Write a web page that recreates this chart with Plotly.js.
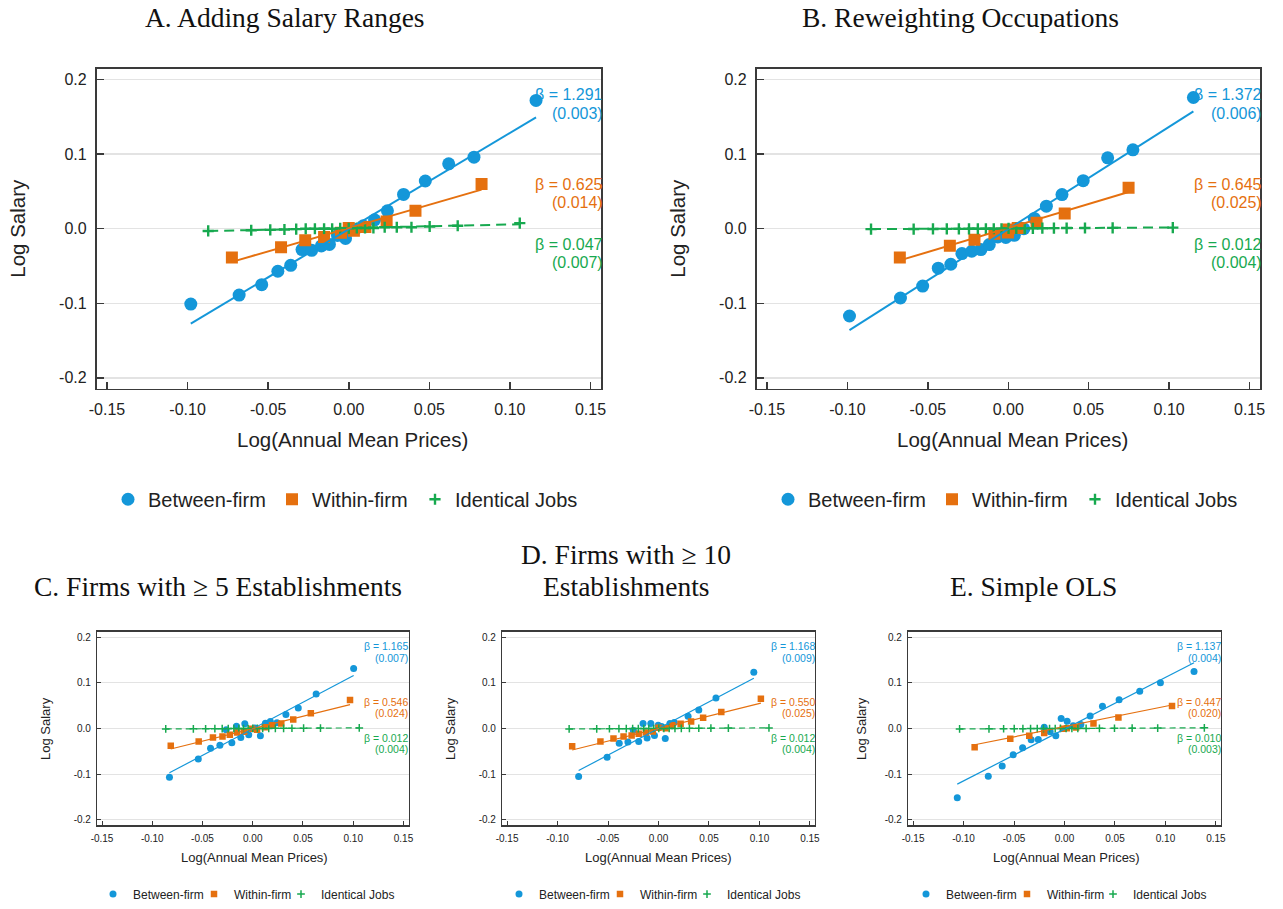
<!DOCTYPE html>
<html><head><meta charset="utf-8">
<script src="https://cdn.plot.ly/plotly-3.0.1.min.js"></script>
<style>html,body{margin:0;padding:0;background:#fff}</style>
</head><body><div id="chart" style="width:1283px;height:909px"></div>
<script>
// ---------------- DATA ----------------
const xTickVals = [-0.15, -0.10, -0.05, 0.00, 0.05, 0.10, 0.15];
const xTickText = ['-0.15', '-0.10', '-0.05', '0.00', '0.05', '0.10', '0.15'];
const yTickVals = [-0.2, -0.1, 0.0, 0.1, 0.2];
const yTickText = ['-0.2', '-0.1', '0.0', '0.1', '0.2'];
const seriesNames = ['Between-firm', 'Within-firm', 'Identical Jobs'];
const panelTitles = ['A. Adding Salary Ranges', 'B. Reweighting Occupations',
  'C. Firms with ≥ 5 Establishments', 'D. Firms with ≥ 10<br>Establishments', 'E. Simple OLS'];
const xTitle = 'Log(Annual Mean Prices)';
const yTitle = 'Log Salary';

// Panel A
const aBetweenX = [-0.098, -0.068, -0.054, -0.044, -0.036, -0.029, -0.023, -0.017, -0.012, -0.007, -0.002, 0.004, 0.009, 0.016, 0.024, 0.034, 0.0475, 0.062, 0.0777, 0.1162];
const aBetweenY = [-0.101, -0.089, -0.075, -0.057, -0.049, -0.028, -0.029, -0.023, -0.021, -0.009, -0.013, -0.001, 0.004, 0.012, 0.024, 0.046, 0.064, 0.087, 0.096, 0.172];
const aWithinX = [-0.0725, -0.042, -0.027, -0.0153, -0.0048, 0.0, 0.0032, 0.0103, 0.0235, 0.0414, 0.0824];
const aWithinY = [-0.0387, -0.0249, -0.0156, -0.0111, -0.0053, 0.0009, -0.0027, 0.0022, 0.0098, 0.024, 0.060];
const aIdentX = [-0.0872, -0.0605, -0.0487, -0.0399, -0.0326, -0.0267, -0.021, -0.0153, -0.0103, -0.0053, 0.0, 0.005, 0.0101, 0.0153, 0.0223, 0.0298, 0.0389, 0.0502, 0.0676, 0.1061];
const aIdentY = [-0.003, -0.002, -0.0015, -0.001, -0.0005, 0.0, 0.0, 0.0, 0.0, 0.0005, 0.0005, 0.001, 0.001, 0.001, 0.002, 0.002, 0.002, 0.003, 0.004, 0.0075];
const aBeta = [1.291, 0.625, 0.047];
const aSE = [0.003, 0.014, 0.007];
const aIntercept = [-0.0006, 0.0009, 0.001];

// Panel B
const bBetweenX = [-0.0987, -0.067, -0.0532, -0.0435, -0.0357, -0.0288, -0.0227, -0.017, -0.0118, -0.0065, -0.0015, 0.0038, 0.0097, 0.0162, 0.0237, 0.0334, 0.0466, 0.0618, 0.0775, 0.1151];
const bBetweenY = [-0.117, -0.0929, -0.0769, -0.0529, -0.0476, -0.0333, -0.0302, -0.028, -0.0213, -0.0111, -0.0116, -0.0089, 0.0, 0.0138, 0.0302, 0.0458, 0.0644, 0.0951, 0.1058, 0.176];
const bWithinX = [-0.0674, -0.0363, -0.021, -0.0086, -0.0002, 0.0, 0.0059, 0.0176, 0.0351, 0.0748];
const bWithinY = [-0.0387, -0.0227, -0.0147, -0.0067, -0.005, -0.0009, 0.0009, 0.008, 0.0204, 0.0551];
const bIdentX = [-0.0853, -0.0588, -0.0468, -0.0382, -0.0307, -0.0244, -0.0189, -0.0139, -0.009, -0.0042, 0.0002, 0.005, 0.0103, 0.0153, 0.0212, 0.0284, 0.0363, 0.0477, 0.0649, 0.1023];
const bIdentY = [-0.0005, -0.0004, -0.0003, -0.0002, -0.0002, -0.0001, 0.0, 0.0, 0.0, 0.0, 0.0005, 0.0005, 0.0005, 0.0006, 0.0007, 0.0008, 0.0009, 0.001, 0.0012, 0.0015];
const bBeta = [1.372, 0.645, 0.012];
const bSE = [0.006, 0.025, 0.004];
const bIntercept = [-0.0005, 0.001, 0.0005];

// Panel C
const cBetweenX = [-0.0829, -0.0542, -0.042, -0.0327, -0.0264, -0.0208, -0.0162, -0.0119, -0.0079, -0.004, 0.002, 0.0076, 0.0126, 0.0175, 0.0241, 0.033, 0.0453, 0.0631, 0.1004];
const cBetweenY = [-0.1069, -0.0669, -0.0436, -0.0371, -0.003, -0.0313, 0.0051, -0.0196, 0.0102, -0.0138, 0.001, -0.016, 0.0116, 0.0153, 0.0124, 0.0305, 0.0451, 0.0756, 0.1316];
const cWithinX = [-0.0816, -0.0538, -0.0396, -0.0301, -0.0228, -0.0155, -0.0086, -0.0013, 0.0043, 0.0119, 0.0192, 0.0284, 0.0403, 0.0578, 0.0968];
const cWithinY = [-0.0378, -0.0284, -0.0196, -0.0175, -0.0138, -0.0087, -0.0073, -0.0007, -0.0029, 0.0029, 0.0073, 0.0109, 0.0196, 0.0335, 0.0625];
const cIdentX = [-0.0866, -0.0591, -0.0469, -0.0377, -0.0304, -0.0244, -0.0188, -0.0139, -0.0092, -0.0046, 0.0, 0.0046, 0.0099, 0.0159, 0.0225, 0.0307, 0.039, 0.0506, 0.0674, 0.106];
const cIdentY = [-0.001, -0.0007, -0.0006, -0.0005, -0.0004, -0.0003, -0.0002, -0.0002, -0.0001, -0.0001, 0.0, 0.0001, 0.0001, 0.0002, 0.0003, 0.0004, 0.0005, 0.0006, 0.0008, 0.0013];
const cBeta = [1.165, 0.546, 0.012];
const cSE = [0.007, 0.024, 0.004];
const cIntercept = [-0.0008, -0.0005, 0.0];

// Panel D
const dBetweenX = [-0.0791, -0.0509, -0.0389, -0.0303, -0.0249, -0.0196, -0.0153, -0.0113, -0.0076, -0.004, -0.0003, 0.003, 0.0067, 0.0113, 0.0156, 0.0293, 0.0399, 0.0569, 0.0944];
const dBetweenY = [-0.1055, -0.0633, -0.0327, -0.0298, -0.0044, -0.0284, 0.0109, -0.0211, 0.0109, -0.0153, 0.0073, 0.0044, -0.0218, 0.0109, 0.0131, 0.0269, 0.0407, 0.0669, 0.1236];
const dWithinX = [-0.0855, -0.0575, -0.0446, -0.0346, -0.0266, -0.0196, -0.0126, -0.0057, 0.0, 0.007, 0.0136, 0.0219, 0.0323, 0.0442, 0.0622, 0.1014];
const dWithinY = [-0.0393, -0.0284, -0.0218, -0.0175, -0.0153, -0.0116, -0.0087, -0.0065, 0.0015, 0.0007, 0.0073, 0.0102, 0.0153, 0.0233, 0.0364, 0.0655];
const dIdentX = [-0.0885, -0.0612, -0.0486, -0.0392, -0.0319, -0.0256, -0.02, -0.0146, -0.0096, -0.0047, 0.0003, 0.0053, 0.0106, 0.0163, 0.0226, 0.0306, 0.0399, 0.0519, 0.0692, 0.1094];
const dIdentY = [-0.001, -0.0007, -0.0006, -0.0005, -0.0004, -0.0003, -0.0002, -0.0002, -0.0001, -0.0001, 0.0, 0.0001, 0.0001, 0.0002, 0.0003, 0.0004, 0.0005, 0.0006, 0.0008, 0.0013];
const dBeta = [1.168, 0.550, 0.012];
const dSE = [0.009, 0.025, 0.004];
const dIntercept = [0.0, -0.0003, 0.0];

// Panel E
const eBetweenX = [-0.1062, -0.0755, -0.0617, -0.0508, -0.0415, -0.033, -0.026, -0.0201, -0.0142, -0.0086, -0.0033, 0.0026, 0.0086, 0.0162, 0.0254, 0.0376, 0.0541, 0.0745, 0.095, 0.1283];
const eBetweenY = [-0.152, -0.1047, -0.0822, -0.0575, -0.0422, -0.0247, -0.024, 0.0029, -0.0073, -0.016, 0.0218, 0.016, 0.0058, 0.0087, 0.0276, 0.0487, 0.0633, 0.0815, 0.1004, 0.1251];
const eWithinX = [-0.089, -0.0537, -0.0349, -0.0201, -0.0016, 0.0023, 0.0115, 0.0287, 0.0534, 0.1065];
const eWithinY = [-0.0415, -0.0225, -0.016, -0.0102, -0.0007, 0.0007, 0.0022, 0.0109, 0.024, 0.0495];
const eIdentX = [-0.1039, -0.0748, -0.0603, -0.0498, -0.0412, -0.0336, -0.027, -0.0208, -0.0148, -0.0092, -0.004, 0.0016, 0.0073, 0.0132, 0.0214, 0.0346, 0.0495, 0.067, 0.0923, 0.1385];
const eIdentY = [-0.001, -0.0008, -0.0006, -0.0005, -0.0004, -0.0003, -0.0003, -0.0002, -0.0002, -0.0001, 0.0, 0.0, 0.0001, 0.0001, 0.0002, 0.0003, 0.0005, 0.0007, 0.0009, 0.0014];
const eBeta = [1.137, 0.447, 0.010];
const eSE = [0.004, 0.020, 0.003];
const eIntercept = [-0.0015, 0.004, 0.0];

// ---------------- LAYOUT / DRAWING ----------------
const W = 1283, H = 909;
const px = v => v / W;
const py = v => 1 - v / H;
const COLORS = ['#1497d9', '#e5700f', '#17a94f'];
const SANS = 'Liberation Sans, Arial, sans-serif';
const SERIF = 'Liberation Serif, Times New Roman, serif';

const panels = [
  {sfx: '', big: true, xd: [96.5, 601], yd: [69, 391], xr: 0.1565, yr: 0.2147,
   title: [285, [18]], ytitle: [18, 230], xtitle: [352, 442], legSym: [131, 295, 438], legY: 502,
   sx: [aBetweenX, aWithinX, aIdentX], sy: [aBetweenY, aWithinY, aIdentY], beta: aBeta, se: aSE, icpt: aIntercept, t: 0},
  {sfx: '2', big: true, xd: [756.5, 1260], yd: [69, 391], xr: 0.1565, yr: 0.2147,
   title: [960, [18]], ytitle: [678, 230], xtitle: [1012, 442], legSym: [791, 955, 1098], legY: 502,
   sx: [bBetweenX, bWithinX, bIdentX], sy: [bBetweenY, bWithinY, bIdentY], beta: bBeta, se: bSE, icpt: bIntercept, t: 1},
  {sfx: '3', big: false, xd: [97, 408.5], yd: [635, 830], xr: 0.155, yr: 0.2129,
   title: [218, [590]], ytitle: [46, 733], xtitle: [254, 862], legSym: [115, 216, 303], legY: 899,
   sx: [cBetweenX, cWithinX, cIdentX], sy: [cBetweenY, cWithinY, cIdentY], beta: cBeta, se: cSE, icpt: cIntercept, t: 2},
  {sfx: '4', big: false, xd: [502, 815], yd: [635, 830], xr: 0.155, yr: 0.2129,
   title: [626, [558, 590]], ytitle: [451, 733], xtitle: [658, 862], legSym: [521, 622, 709], legY: 899,
   sx: [dBetweenX, dWithinX, dIdentX], sy: [dBetweenY, dWithinY, dIdentY], beta: dBeta, se: dSE, icpt: dIntercept, t: 3},
  {sfx: '5', big: false, xd: [908, 1221], yd: [635, 830], xr: 0.155, yr: 0.2129,
   title: [1033, [590]], ytitle: [862, 733], xtitle: [1066, 862], legSym: [928, 1029, 1115], legY: 899,
   sx: [eBetweenX, eWithinX, eIdentX], sy: [eBetweenY, eWithinY, eIdentY], beta: eBeta, se: eSE, icpt: eIntercept, t: 4}
];

const traces = [];
const layout = {
  width: W, height: H, margin: {l: 0, r: 0, t: 0, b: 0},
  paper_bgcolor: '#fff', plot_bgcolor: '#fff', showlegend: true,
  annotations: [], font: {family: SANS, color: '#222'}
};
// label vertical positions (data units) for beta / se lines of each series
const labelY = [[0.180, 0.1547], [0.059, 0.0347], [-0.0205, -0.0448]];

panels.forEach((p, pi) => {
  const big = p.big;
  const xa = 'x' + p.sfx, ya = 'y' + p.sfx;
  const frameC = '#3a3a3a';
  layout['xaxis' + p.sfx] = {
    domain: [px(p.xd[0]), px(p.xd[1])], range: [-p.xr, p.xr], anchor: ya,
    tickmode: 'array', tickvals: xTickVals, ticktext: xTickText,
    ticks: 'inside', ticklen: big ? 7 : 4, tickwidth: big ? 1.5 : 1, tickcolor: frameC,
    showline: true, linecolor: frameC, linewidth: big ? 1.6 : 1.1, mirror: true,
    showgrid: false, zeroline: false, fixedrange: true, ticklabelstandoff: big ? 5 : 3,
    tickfont: {family: SANS, size: big ? 16 : 10, color: '#222'}
  };
  layout['yaxis' + p.sfx] = {
    domain: [py(p.yd[1]), py(p.yd[0])], range: [-p.yr, p.yr], anchor: xa,
    tickmode: 'array', tickvals: yTickVals, ticktext: yTickText,
    ticks: 'inside', ticklen: big ? 7 : 4, tickwidth: big ? 1.5 : 1, tickcolor: frameC,
    showline: true, linecolor: frameC, linewidth: big ? 1.6 : 1.1, mirror: true,
    showgrid: true, gridcolor: '#e3e3e3', gridwidth: big ? 1.5 : 1, zeroline: false, fixedrange: true,
    ticklabelstandoff: big ? 5 : 3,
    tickfont: {family: SANS, size: big ? 16 : 10, color: '#222'}
  };

  // scatter markers, each series with its own legend entry box
  const msize = big ? [13, 12, 8] : [7, 6.5, 5.5];
  for (let s = 0; s < 3; s++) {
    const n = pi * 3 + s + 1;
    const legId = n === 1 ? 'legend' : 'legend' + n;
    const symOffset = big ? 23 : 22;
    layout[legId] = {
      orientation: 'h', x: px(p.legSym[s] - symOffset), xanchor: 'left', y: py(p.legY), yanchor: 'middle',
      font: {family: SANS, size: big ? 20 : 12, color: '#222'}, bgcolor: 'rgba(0,0,0,0)', borderwidth: 0
    };
    const marker = s === 0 ? {symbol: 'circle', size: msize[0], color: COLORS[0]} :
      s === 1 ? {symbol: 'square', size: msize[1], color: COLORS[1]} :
      {symbol: 'cross-thin', size: msize[2], color: COLORS[2], line: {color: COLORS[2], width: big ? 2.4 : 1.5}};
    traces.push({type: 'scatter', mode: 'markers', x: p.sx[s], y: p.sy[s], xaxis: xa, yaxis: ya,
      name: seriesNames[s], legend: legId, marker: marker, hoverinfo: 'skip'});
  }
  // fit lines
  for (let s = 0; s < 3; s++) {
    const x0 = Math.min(...p.sx[s]), x1 = Math.max(...p.sx[s]);
    traces.push({type: 'scatter', mode: 'lines', x: [x0, x1],
      y: [p.icpt[s] + p.beta[s] * x0, p.icpt[s] + p.beta[s] * x1], xaxis: xa, yaxis: ya,
      showlegend: false, hoverinfo: 'skip',
      line: {color: COLORS[s], width: big ? 2 : 1.2, dash: s === 2 ? (big ? '10px,6px' : '6px,4px') : 'solid'}});
    // labels
    const lines = ['β = ' + p.beta[s].toFixed(3), '(' + p.se[s].toFixed(3) + ')'];
    lines.forEach((txt, k) => {
      layout.annotations.push({xref: xa + ' domain', yref: ya, x: 1, y: labelY[s][k], xanchor: 'right', yanchor: 'middle',
        xshift: big ? 4 : 2, text: txt, showarrow: false, font: {family: SANS, size: big ? 16 : 10.5, color: COLORS[s]}});
    });
  }
  // titles (each line placed separately)
  panelTitles[p.t].split('<br>').forEach((ln, k) => {
    layout.annotations.push({xref: 'paper', yref: 'paper', x: px(p.title[0]), y: py(p.title[1][k]), xanchor: 'center', yanchor: 'middle',
      text: ln, showarrow: false, font: {family: SERIF, size: 27.5, color: '#111'}});
  });
  layout.annotations.push({xref: 'paper', yref: 'paper', x: px(p.xtitle[0]), y: py(p.xtitle[1]), xanchor: 'center', yanchor: 'middle',
    text: xTitle, showarrow: false, font: {family: SANS, size: big ? 20.5 : 13, color: '#222'}});
  layout.annotations.push({xref: 'paper', yref: 'paper', x: px(p.ytitle[0]), y: py(p.ytitle[1]), xanchor: 'center', yanchor: 'middle',
    text: yTitle, textangle: -90, showarrow: false, font: {family: SANS, size: big ? 20.5 : 13, color: '#222'}});
});

Plotly.newPlot('chart', traces, layout, {displayModeBar: false, staticPlot: true});
</script>
</body></html>
